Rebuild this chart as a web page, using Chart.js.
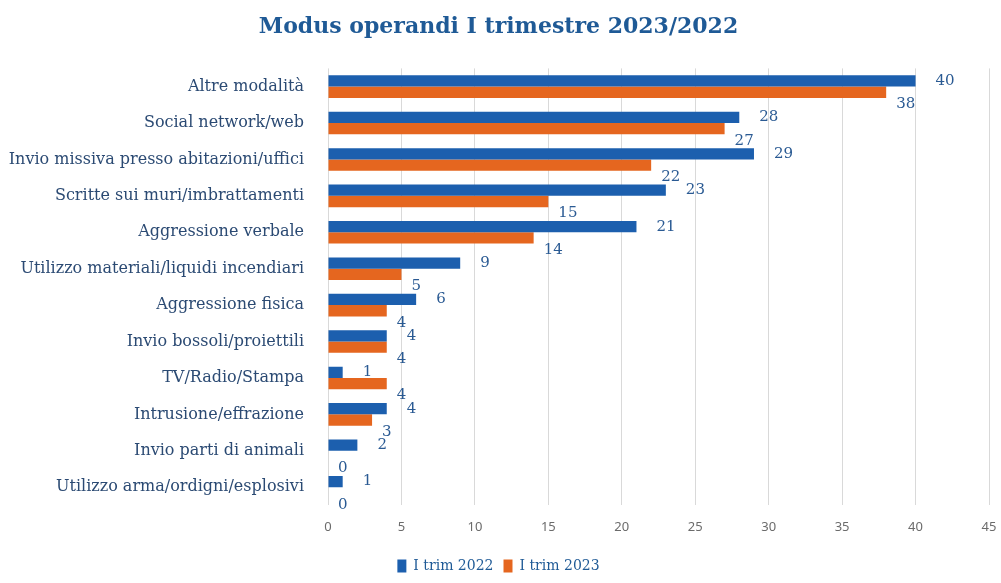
<!DOCTYPE html>
<html>
<head>
<meta charset="utf-8">
<script src="https://cdn.jsdelivr.net/npm/chart.js@4/dist/chart.umd.min.js"></script>
<style>
  html, body { margin: 0; padding: 0; background: #fff; }
  #wrap { width: 1001px; height: 583px; position: relative; }
</style>
</head>
<body>
<div id="wrap"><canvas id="chart"></canvas></div>
<script>
// Modus operandi, I trimestre 2022 vs 2023
const categories = [
  'Altre modalità',
  'Social network/web',
  'Invio missiva presso abitazioni/uffici',
  'Scritte sui muri/imbrattamenti',
  'Aggressione verbale',
  'Utilizzo materiali/liquidi incendiari',
  'Aggressione fisica',
  'Invio bossoli/proiettili',
  'TV/Radio/Stampa',
  'Intrusione/effrazione',
  'Invio parti di animali',
  'Utilizzo arma/ordigni/esplosivi'
];
const trim2022 = [40, 28, 29, 23, 21, 9, 6, 4, 1, 4, 2, 1];
const trim2023 = [38, 27, 22, 15, 14, 5, 4, 4, 4, 3, 0, 0];
const xTicks = [0, 5, 10, 15, 20, 25, 30, 35, 40, 45];

const BLUE = '#1c5fae';
const ORANGE = '#e5661f';
const LABEL_COLOR = '#2b4a73';

// value labels next to each bar end
const valueLabels = {
  id: 'valueLabels',
  afterDatasetsDraw(chart) {
    const ctx = chart.ctx;
    ctx.save();
    ctx.font = '15px "DejaVu Serif"';
    ctx.fillStyle = '#2a5a93';
    ctx.textAlign = 'left';
    ctx.textBaseline = 'middle';
    chart.data.datasets.forEach((ds, i) => {
      const meta = chart.getDatasetMeta(i);
      meta.data.forEach((bar, j) => {
        const v = ds.data[j];
        if (i === 0) {
          ctx.fillText(v, bar.x + 20, bar.y);
        } else {
          ctx.fillText(v, bar.x + 10, bar.y + 12);
        }
      });
    });
    ctx.restore();
  }
};

new Chart(document.getElementById('chart'), {
  type: 'bar',
  data: {
    labels: categories,
    datasets: [
      { label: 'I trim 2022', data: trim2022, backgroundColor: BLUE },
      { label: 'I trim 2023', data: trim2023, backgroundColor: ORANGE }
    ]
  },
  options: {
    indexAxis: 'y',
    responsive: true,
    maintainAspectRatio: false,
    animation: false,
    layout: { padding: { left: 0, right: 4, top: 14, bottom: 0 } },
    datasets: {
      bar: { categoryPercentage: 0.62, barPercentage: 1.0 }
    },
    scales: {
      x: {
        min: 0,
        max: 45,
        afterBuildTicks(axis) { axis.ticks = xTicks.map(v => ({ value: v })); },
        afterFit(axis) { axis.paddingRight = 12; },
        grid: { color: '#d9d9d9', drawTicks: false },
        border: { display: false },
        ticks: {
          color: '#6b6b6b',
          padding: 14,
          font: { family: '"Noto Sans"', size: 13 }
        }
      },
      y: {
        afterFit(axis) { axis.width = 328; },
        grid: { display: false },
        border: { display: false },
        ticks: {
          color: LABEL_COLOR,
          padding: 16,
          font: { family: '"DejaVu Serif"', size: 16 }
        }
      }
    },
    plugins: {
      title: {
        display: true,
        text: 'Modus operandi I trimestre 2023/2022',
        color: '#1f5a96',
        font: { family: '"DejaVu Serif"', size: 22, weight: 'bold' },
        padding: { top: 0, bottom: 28 }
      },
      legend: {
        position: 'bottom',
        labels: {
          color: '#1f5a96',
          boxWidth: 9,
          boxHeight: 13,
          padding: 10,
          font: { family: '"DejaVu Serif"', size: 14 }
        }
      },
      tooltip: { enabled: false }
    }
  },
  plugins: [valueLabels]
});
</script>
</body>
</html>
